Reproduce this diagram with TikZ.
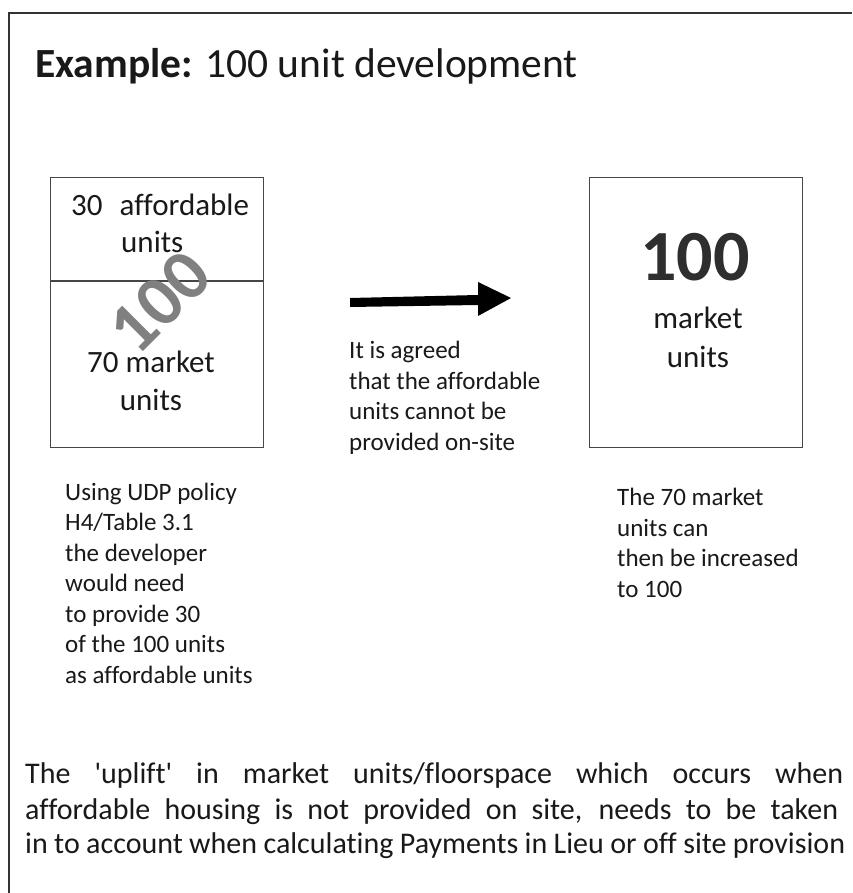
\documentclass[tikz,border=0pt]{standalone}
\usepackage{fontspec}
\setmainfont{Carlito}[Ligatures={NoCommon}]
\definecolor{ink}{RGB}{25,25,25}
\definecolor{boxline}{RGB}{70,70,70}
\definecolor{wmark}{RGB}{128,128,128}
\begin{document}
\begin{tikzpicture}[x=1pt,y=-1pt,
  box/.style={draw=boxline, line width=1.3pt, inner sep=0pt, anchor=north west},
  body/.style={font=\fontsize{25}{30.5}\selectfont, text=ink, inner sep=0pt, align=left, anchor=base west},
  boxtxt/.style={font=\fontsize{31}{31}\selectfont, text=ink, inner sep=0pt, anchor=base},
  bottomtxt/.style={font=\fontsize{30}{30}\selectfont, text=ink, inner sep=0pt, anchor=base west}]
\useasboundingbox (0,0) rectangle (852,893);
\fill[white] (0,0) rectangle (852,893);
% outer frame (top and left edges)
\draw[line width=2pt, draw=black!80] (9,893) -- (9,13) -- (852,13);
% title
\node[font=\fontsize{41.5}{41.5}\selectfont, text=ink, inner sep=0pt, anchor=base west] (title) at (35,78)
  {\textbf{Example:} 100 unit development};
% left box
\node[box, minimum width=213pt, minimum height=270pt] (leftbox) at (50,177) {};
\coordinate (divl) at (50,281);
\coordinate (divr) at (263,281);
\draw[draw=boxline, line width=1.3pt] (divl) -- (divr);
\node[rotate=45, font=\bfseries\fontsize{72}{72}\selectfont, text=wmark, inner sep=0pt] (wm) at (160,302) {100};
\node[boxtxt, anchor=base west] (aff1) at (71,215) {30\hspace{17pt}affordable};
\node[boxtxt, anchor=base west] (aff2) at (121,252) {units};
\node[boxtxt] (mk1) at (151,372) {70 market};
\node[boxtxt] (mk2) at (151,410) {units};
% right box
\node[box, minimum width=213pt, minimum height=270pt] (rightbox) at (589,177) {};
\node[font=\bfseries\fontsize{72}{72}\selectfont, text=black!82, inner sep=0pt, anchor=base] (hundred) at (695,280) {100};
\node[boxtxt] (rmk1) at (698,328) {market};
\node[boxtxt] (rmk2) at (698,367) {units};
% arrow
\fill[black] (350,298) -- (478,295) -- (478,282) -- (511,298) -- (478,316) -- (478,305) -- (350,307) -- cycle;
% captions (anchored at the baseline of their last line)
\node[body] (midtxt) at (349,450) {It is agreed\\that the affordable\\units cannot be\\provided on-site};
\node[body] (lefttxt) at (65,683) {Using UDP policy\\H4/Table 3.1\\the developer\\would need\\to provide 30\\of the 100 units\\as affordable units};
\node[body] (righttxt) at (617,597) {The 70 market\\units can\\then be increased\\to 100};
% bottom paragraph
\node[bottomtxt] (b1) at (25,783) {\makebox[818pt][s]{The \textquotesingle uplift\textquotesingle{} in market units/floorspace which occurs when}};
\node[bottomtxt] (b2) at (25,819) {\makebox[813pt][s]{affordable housing is not provided on site, needs to be taken}};
\node[bottomtxt] (b3) at (25,853) {\makebox[820pt][s]{in to account when calculating Payments in Lieu or off site provision}};
\end{tikzpicture}
\end{document}
